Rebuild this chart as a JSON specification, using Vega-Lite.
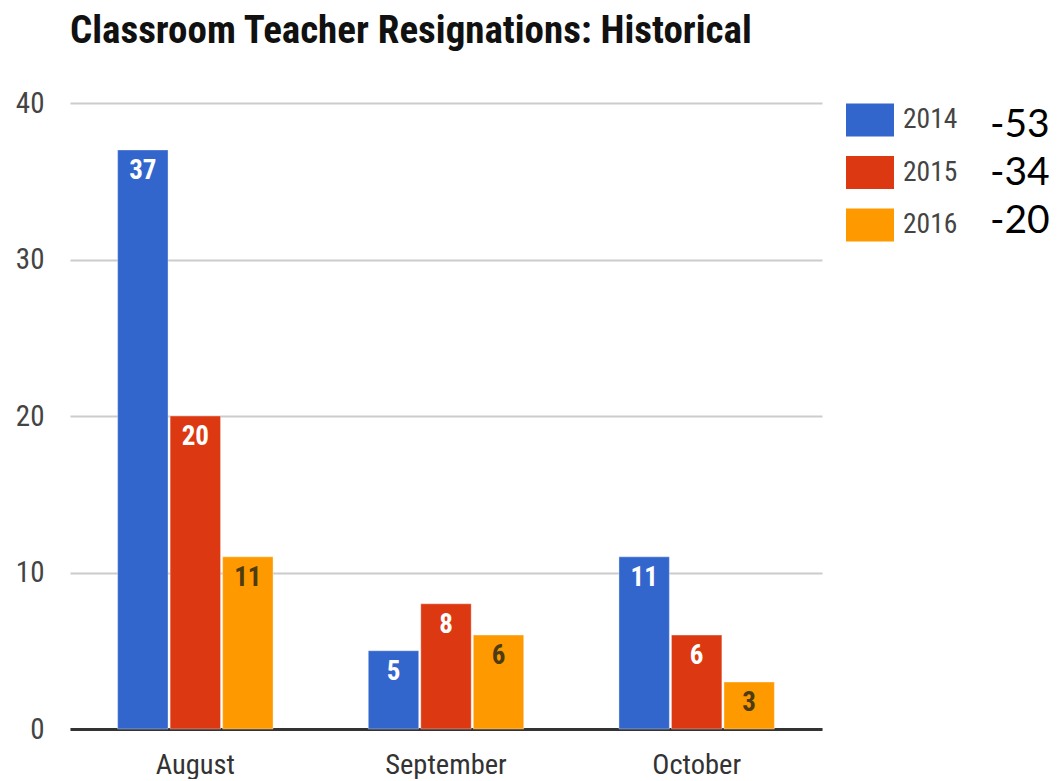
{
  "$schema": "https://vega.github.io/schema/vega-lite/v6.json",
  "width": 752,
  "height": 626,
  "padding": {"left": 15, "top": 12, "right": 0, "bottom": 0},
  "background": "white",
  "title": {
    "text": "Classroom Teacher Resignations: Historical",
    "anchor": "start",
    "frame": "group",
    "font": "Roboto Condensed, Liberation Sans Narrow, DejaVu Sans Condensed, Roboto",
    "fontSize": 39,
    "fontWeight": "bold",
    "color": "#111111",
    "offset": 38
  },
  "config": {
    "view": {"stroke": null},
    "font": "Roboto Condensed, Liberation Sans Narrow, DejaVu Sans Condensed, Roboto"
  },
  "data": {
    "values": [
      {"month": "August", "year": "2014", "value": 37, "total": "-53"},
      {"month": "August", "year": "2015", "value": 20, "total": "-34"},
      {"month": "August", "year": "2016", "value": 11, "total": "-20"},
      {"month": "September", "year": "2014", "value": 5, "total": "-53"},
      {"month": "September", "year": "2015", "value": 8, "total": "-34"},
      {"month": "September", "year": "2016", "value": 6, "total": "-20"},
      {"month": "October", "year": "2014", "value": 11, "total": "-53"},
      {"month": "October", "year": "2015", "value": 6, "total": "-34"},
      {"month": "October", "year": "2016", "value": 3, "total": "-20"}
    ]
  },
  "encoding": {
    "x": {
      "field": "month",
      "type": "nominal",
      "sort": ["August", "September", "October"],
      "scale": {"paddingInner": 0.38, "paddingOuter": 0.19},
      "axis": {
        "title": null,
        "labelAngle": 0,
        "ticks": false,
        "labelFont": "Roboto Condensed, Liberation Sans Narrow, DejaVu Sans Condensed, Roboto",
        "labelFontSize": 28.5,
        "labelColor": "#333333",
        "labelPadding": 21,
        "domainColor": "#333333",
        "domainWidth": 3
      }
    },
    "xOffset": {
      "field": "year",
      "type": "nominal",
      "scale": {"paddingInner": 0.04, "paddingOuter": 0}
    },
    "y": {
      "field": "value",
      "type": "quantitative",
      "scale": {"domain": [0, 40], "nice": false},
      "axis": {
        "title": null,
        "values": [0, 10, 20, 30, 40],
        "domain": false,
        "ticks": false,
        "gridColor": "#cccccc",
        "gridWidth": 2,
        "labelFont": "Roboto Condensed, Liberation Sans Narrow, DejaVu Sans Condensed, Roboto",
        "labelFontSize": 29,
        "labelColor": "#444444",
        "labelPadding": 26
      }
    }
  },
  "layer": [
    {
      "mark": {"type": "bar", "stroke": "white", "strokeOpacity": 0.35, "strokeWidth": 1},
      "encoding": {
        "color": {
          "field": "year",
          "type": "nominal",
          "scale": {"domain": ["2014", "2015", "2016"], "range": ["#3366cc", "#dc3912", "#ff9900"]},
          "legend": {
            "title": null,
            "orient": "none",
            "legendX": 776,
            "legendY": -7,
            "symbolType": "M-1,-0.69H1V0.69H-1Z",
            "symbolSize": 2304,
            "symbolStrokeWidth": 0,
            "symbolOpacity": 1,
            "labelFont": "Roboto Condensed, Liberation Sans Narrow, DejaVu Sans Condensed, Roboto",
            "labelFontSize": 27.5,
            "labelColor": "#444444",
            "labelOffset": 9,
            "rowPadding": 11.5
          }
        }
      }
    },
    {
      "mark": {"type": "text", "baseline": "top", "dy": 8, "fontWeight": "bold", "fontSize": 27, "font": "Roboto Condensed, Liberation Sans Narrow, DejaVu Sans Condensed, Roboto"},
      "encoding": {
        "text": {"field": "value", "type": "quantitative"},
        "fill": {
          "field": "year",
          "type": "nominal",
          "scale": {"domain": ["2014", "2015", "2016"], "range": ["#ffffff", "#ffffff", "#4d3b12"]},
          "legend": null
        }
      }
    },
    {
      "mark": {"type": "point", "opacity": 0},
      "encoding": {
        "shape": {
          "field": "total",
          "type": "nominal",
          "scale": {"domain": ["-53", "-34", "-20"]},
          "legend": {
            "title": null,
            "orient": "none",
            "legendX": 881,
            "legendY": 2,
            "symbolSize": 1,
            "symbolOpacity": 0,
            "labelFont": "Lato, Open Sans, sans-serif",
            "labelFontSize": 39,
            "labelColor": "#000000",
            "labelOffset": 0,
            "rowPadding": 8
          }
        }
      }
    }
  ]
}
